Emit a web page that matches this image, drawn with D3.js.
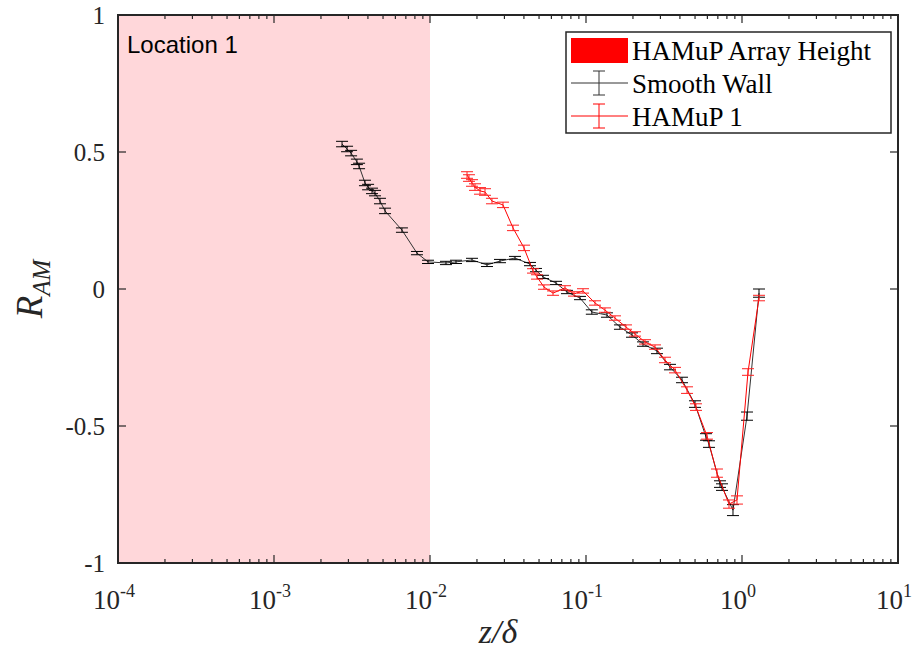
<!DOCTYPE html>
<html>
<head>
<meta charset="utf-8">
<script src="https://cdn.jsdelivr.net/npm/d3@7"></script>
<style>
  body { margin: 0; background: #fff; }
  svg { display: block; }
  .serif { font-family: "Liberation Serif", "DejaVu Serif", serif; }
  .tick-label { font-size: 25px; fill: #262626; }
</style>
</head>
<body>
<div id="chart"></div>
<script>
// smooth wall series
var smoothZ = [0.00273, 0.00294, 0.00312, 0.00340, 0.00351, 0.00383, 0.00401, 0.00425, 0.00444, 0.00478,
  0.00515, 0.00661, 0.00825, 0.00971, 0.01266, 0.01468, 0.01859, 0.02319, 0.02810, 0.03506,
  0.04375, 0.04780, 0.05302, 0.06424, 0.07553, 0.09152, 0.1090, 0.1363, 0.1651, 0.1972,
  0.2319, 0.2851, 0.3455, 0.4124, 0.4996, 0.5878, 0.6143, 0.7228, 0.7444, 0.8755,
  1.0767, 1.2853];
var smoothR = [0.529, 0.511, 0.496, 0.464, 0.449, 0.387, 0.372, 0.358, 0.350, 0.321,
  0.285, 0.215, 0.131, 0.099, 0.095, 0.099, 0.106, 0.088, 0.102, 0.113,
  0.091, 0.069, 0.044, 0.022, -0.011, -0.033, -0.084, -0.095, -0.139, -0.168,
  -0.201, -0.226, -0.285, -0.332, -0.420, -0.540, -0.566, -0.712, -0.723, -0.807,
  -0.464, -0.015];
var smoothErr = [0.01, 0.01, 0.01, 0.01, 0.01, 0.01, 0.01, 0.01, 0.01, 0.01,
  0.01, 0.008, 0.006, 0.006, 0.006, 0.006, 0.006, 0.006, 0.006, 0.006,
  0.006, 0.006, 0.006, 0.006, 0.006, 0.006, 0.008, 0.008, 0.008, 0.008,
  0.008, 0.01, 0.01, 0.01, 0.012, 0.012, 0.012, 0.012, 0.012, 0.02,
  0.015, 0.015];

// HAMuP 1 series
var hamupZ = [0.01727, 0.01778, 0.01859, 0.01943, 0.02092, 0.02252, 0.02496, 0.02937, 0.03404, 0.04006,
  0.04574, 0.04851, 0.05380, 0.06145, 0.07334, 0.08378, 0.09567, 0.1142, 0.1323, 0.1534,
  0.1805, 0.2061, 0.2389, 0.2769, 0.3209, 0.3720, 0.4442, 0.5071, 0.5965, 0.6914,
  0.8253, 0.9288, 1.0927, 1.2853];
var hamupR = [0.416, 0.405, 0.387, 0.372, 0.358, 0.354, 0.321, 0.307, 0.223, 0.150,
  0.066, 0.044, 0.007, -0.015, 0.004, -0.018, -0.007, -0.051, -0.077, -0.106,
  -0.139, -0.164, -0.193, -0.212, -0.259, -0.296, -0.369, -0.431, -0.536, -0.672,
  -0.785, -0.770, -0.303, -0.033];
var hamupErr = [0.012, 0.012, 0.012, 0.012, 0.012, 0.012, 0.01, 0.01, 0.01, 0.01,
  0.008, 0.008, 0.008, 0.008, 0.008, 0.008, 0.008, 0.008, 0.008, 0.008,
  0.008, 0.008, 0.008, 0.008, 0.01, 0.01, 0.012, 0.012, 0.012, 0.015,
  0.015, 0.015, 0.012, 0.01];

var arrayHeight = [1e-4, 1e-2];
var xDecades = [-4, -3, -2, -1, 0, 1];
var yTicks = [-1, -0.5, 0, 0.5, 1];
var legendLabels = ["HAMuP Array Height", "Smooth Wall", "HAMuP 1"];

var W = 919, H = 657;
var m = {left: 118, right: 21, top: 15, bottom: 94};
var pw = W - m.left - m.right, ph = H - m.top - m.bottom;

var svg = d3.select("#chart").append("svg").attr("width", W).attr("height", H);
var g = svg.append("g").attr("transform", "translate(" + m.left + "," + m.top + ")");

var x = d3.scaleLog().domain([1e-4, 1e1]).range([0, pw]);
var y = d3.scaleLinear().domain([-1, 1]).range([ph, 0]);

// shaded region
g.append("rect")
  .attr("x", x(arrayHeight[0])).attr("y", 0)
  .attr("width", x(arrayHeight[1]) - x(arrayHeight[0])).attr("height", ph)
  .attr("fill", "#ffd7da");

g.append("text").attr("x", 9).attr("y", 38)
  .style("font-family", "'Liberation Sans', Arial, sans-serif").style("font-size", "24px")
  .attr("fill", "#000").text("Location 1");

// ticks (inward, all four sides)
var tickCol = "#262626";
var minor = [];
xDecades.slice(0, -1).forEach(function(d) {
  for (var k = 2; k <= 9; k++) minor.push(k * Math.pow(10, d));
});
var tg = g.append("g").attr("stroke", tickCol).attr("stroke-width", 1.2);
xDecades.forEach(function(d) {
  var px = x(Math.pow(10, d));
  tg.append("line").attr("x1", px).attr("x2", px).attr("y1", ph).attr("y2", ph - 8);
  tg.append("line").attr("x1", px).attr("x2", px).attr("y1", 0).attr("y2", 8);
});
minor.forEach(function(v) {
  var px = x(v);
  tg.append("line").attr("x1", px).attr("x2", px).attr("y1", ph).attr("y2", ph - 4);
  tg.append("line").attr("x1", px).attr("x2", px).attr("y1", 0).attr("y2", 4);
});
yTicks.forEach(function(v) {
  tg.append("line").attr("x1", 0).attr("x2", 8).attr("y1", y(v)).attr("y2", y(v));
  tg.append("line").attr("x1", pw).attr("x2", pw - 8).attr("y1", y(v)).attr("y2", y(v));
});

// tick labels
yTicks.forEach(function(v) {
  g.append("text").attr("class", "serif tick-label")
    .attr("x", -13).attr("y", y(v) + 9).attr("text-anchor", "end")
    .text(v < 0 ? "-" + String(-v) : String(v));
});
xDecades.forEach(function(d) {
  var t = g.append("text").attr("class", "serif tick-label")
    .attr("x", x(Math.pow(10, d)) - 4).attr("y", ph + 46).attr("text-anchor", "middle");
  t.append("tspan").style("font-size", "27px").text("10");
  t.append("tspan").attr("dy", -12).style("font-size", "18px").text(String(d));
});

// axis titles
var yl = svg.append("text").attr("class", "serif")
  .attr("transform", "translate(42," + (m.top + ph / 2) + ") rotate(-90)")
  .attr("text-anchor", "middle")
  .style("font-style", "italic").attr("fill", "#262626");
yl.append("tspan").style("font-size", "37px").text("R");
yl.append("tspan").attr("dy", 8).style("font-size", "25px").text("AM");

svg.append("text").attr("class", "serif").attr("x", m.left + pw / 2 - 10).attr("y", 643)
  .attr("text-anchor", "middle")
  .style("font-style", "italic").style("font-size", "34px")
  .attr("fill", "#262626").text("z/δ");

// series
function drawSeries(zs, rs, es, col, lineCol) {
  var pts = zs.map(function(z, i) { return {z: z, r: rs[i], e: es[i]}; });
  var line = d3.line().x(function(d) { return x(d.z); }).y(function(d) { return y(d.r); });
  var sg = g.append("g");
  sg.append("path").datum(pts).attr("d", line)
    .attr("fill", "none").attr("stroke", lineCol).attr("stroke-width", 1);
  var eb = sg.selectAll("g.eb").data(pts).enter().append("g").attr("class", "eb")
    .attr("stroke", col).attr("stroke-width", 1);
  eb.append("line")
    .attr("x1", function(d) { return x(d.z); }).attr("x2", function(d) { return x(d.z); })
    .attr("y1", function(d) { return y(d.r - d.e); }).attr("y2", function(d) { return y(d.r + d.e); });
  [-1, 1].forEach(function(s) {
    eb.append("line")
      .attr("x1", function(d) { return x(d.z) - 6; }).attr("x2", function(d) { return x(d.z) + 6; })
      .attr("y1", function(d) { return y(d.r + s * d.e); }).attr("y2", function(d) { return y(d.r + s * d.e); });
  });
}
drawSeries(smoothZ, smoothR, smoothErr, "#000", "#333");
drawSeries(hamupZ, hamupR, hamupErr, "#ff2020", "#ff0000");

// axes box
g.append("rect").attr("width", pw).attr("height", ph)
  .attr("fill", "none").attr("stroke", tickCol).attr("stroke-width", 2);

// legend
var lg = svg.append("g").attr("transform", "translate(566,32)");
lg.append("rect").attr("width", 325).attr("height", 101)
  .attr("fill", "#fff").attr("stroke", "#262626").attr("stroke-width", 1.5);
lg.append("rect").attr("x", 5).attr("y", 6).attr("width", 57).attr("height", 25).attr("fill", "#ff0000");
[null, "#333", "#ff0000"].forEach(function(c, i) {
  if (!c) return;
  var cy = 18 + i * 33;
  lg.append("line").attr("x1", 5).attr("x2", 62).attr("y1", cy).attr("y2", cy).attr("stroke", c);
  lg.append("line").attr("x1", 33).attr("x2", 33).attr("y1", cy - 12).attr("y2", cy + 12).attr("stroke", c);
  lg.append("line").attr("x1", 27).attr("x2", 39).attr("y1", cy - 12).attr("y2", cy - 12).attr("stroke", c);
  lg.append("line").attr("x1", 27).attr("x2", 39).attr("y1", cy + 12).attr("y2", cy + 12).attr("stroke", c);
});
legendLabels.forEach(function(t, i) {
  lg.append("text").attr("class", "serif").attr("x", 66).attr("y", 28 + i * 33)
    .style("font-size", "27px").attr("fill", "#000").text(t);
});
</script>
</body>
</html>
